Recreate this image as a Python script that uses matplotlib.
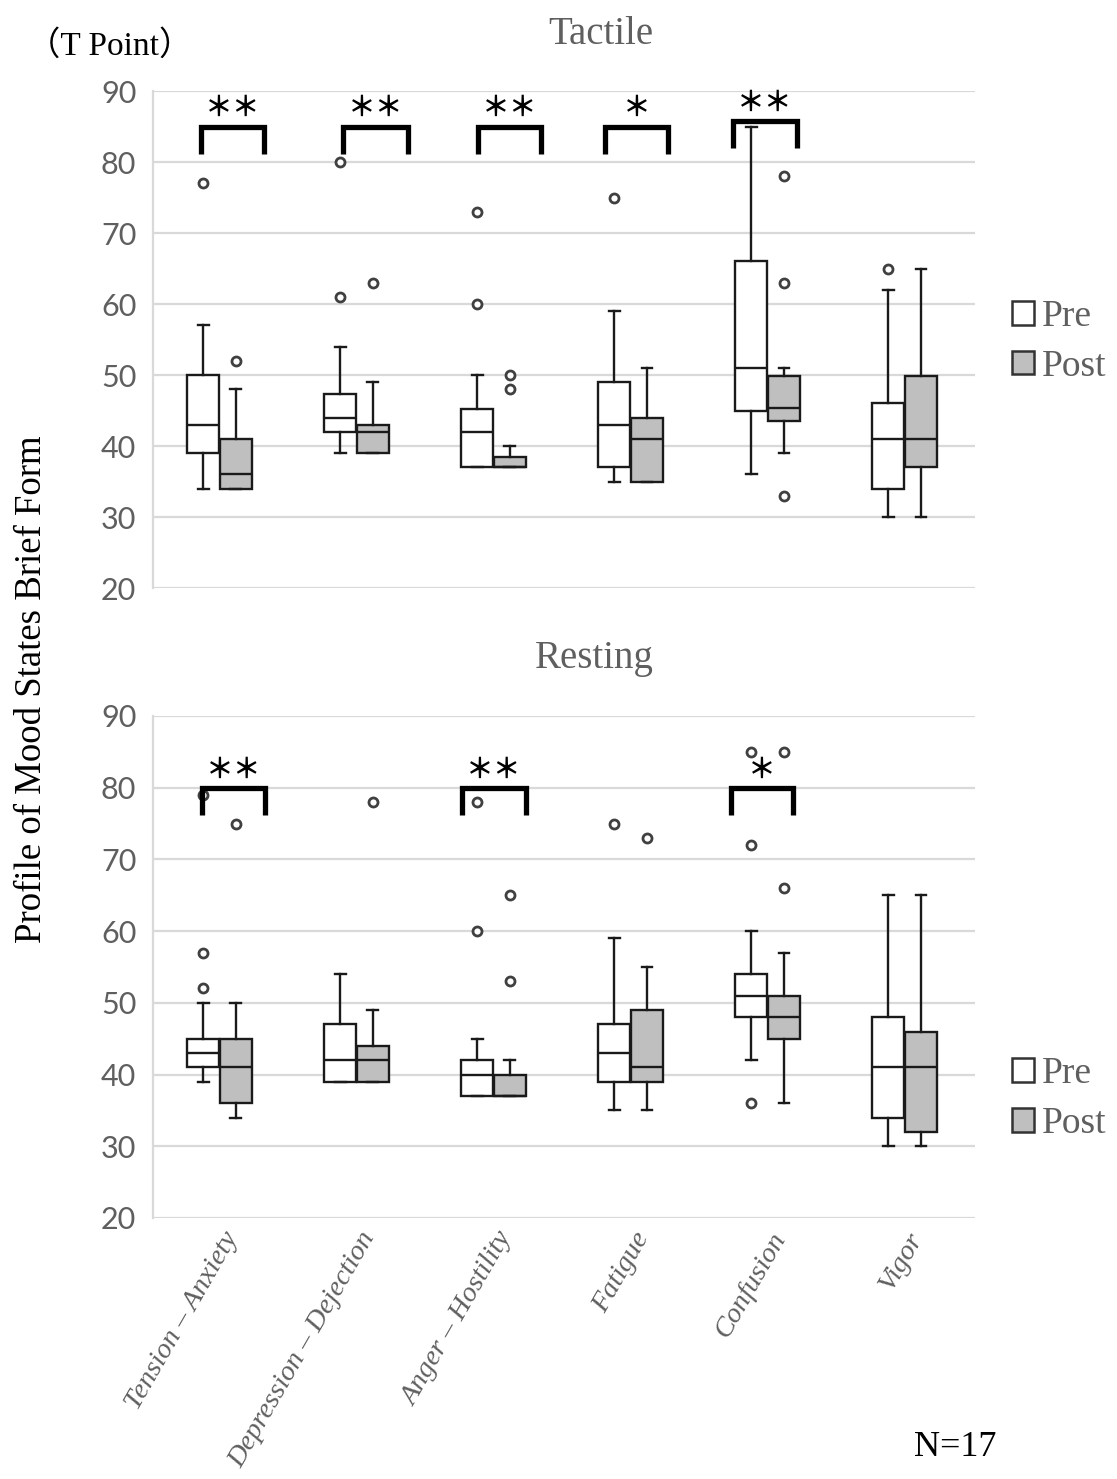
import matplotlib
matplotlib.use('Agg')
import matplotlib.pyplot as plt
from matplotlib.patches import Patch

# categories (POMS subscales)
categories = ['Tension – Anxiety', 'Depression – Dejection', 'Anger – Hostility',
              'Fatigue', 'Confusion', 'Vigor']

# Tactile, pre
tac_pre_med = [43, 44, 42, 43, 51, 41]
tac_pre_q1 = [39, 42, 37, 37, 45, 34]
tac_pre_q3 = [50, 47.3, 45.2, 49, 66, 46]
tac_pre_lo = [34, 39, 37, 35, 36, 30]
tac_pre_hi = [57, 54, 50, 59, 85, 62]
tac_pre_out = [[77], [80, 61], [73, 60], [75], [], [65]]

# Tactile, post
tac_post_med = [36, 42, 37, 41, 45.3, 41]
tac_post_q1 = [34, 39, 37, 35, 43.6, 37]
tac_post_q3 = [41, 43, 38.5, 44, 49.8, 49.8]
tac_post_lo = [34, 39, 37, 35, 39, 30]
tac_post_hi = [48, 49, 40, 51, 51, 65]
tac_post_out = [[52], [63], [50, 48], [], [78, 63, 33], []]

# Resting, pre
rest_pre_med = [43, 42, 40, 43, 51, 41]
rest_pre_q1 = [41, 39, 37, 39, 48, 34]
rest_pre_q3 = [45, 47, 42, 47, 54, 48]
rest_pre_lo = [39, 39, 37, 35, 42, 30]
rest_pre_hi = [50, 54, 45, 59, 60, 65]
rest_pre_out = [[79, 57, 52], [], [78, 60], [75], [85, 72, 36], []]

# Resting, post
rest_post_med = [41, 42, 37, 41, 48, 41]
rest_post_q1 = [36, 39, 37, 39, 45, 32]
rest_post_q3 = [45, 44, 40, 49, 51, 46]
rest_post_lo = [34, 39, 37, 35, 36, 30]
rest_post_hi = [50, 49, 42, 55, 57, 65]
rest_post_out = [[75], [78], [65, 53], [73], [85, 66], []]

# significance marks per category
tac_sig = ['＊＊', '＊＊', '＊＊', '＊', '＊＊', '']
rest_sig = ['＊＊', '', '＊＊', '', '＊', '']

# bracket placement (left / right offset from category centre, top y)
tac_br = {0: (-0.15, 0.31, 85), 1: (-0.11, 0.36, 85), 2: (-0.13, 0.33, 85),
          3: (-0.20, 0.26, 85), 4: (-0.27, 0.20, 85.8)}
rest_br = {0: (-0.14, 0.32, 79.9), 2: (-0.245, 0.22, 79.9), 4: (-0.28, 0.17, 79.9)}

SERIF = 'Liberation Serif'
GRAY_TXT = '#5f5f5f'


def stats(med, q1, q3, lo, hi, out):
    return [dict(med=med[i], q1=q1[i], q3=q3[i], whislo=lo[i], whishi=hi[i],
                 fliers=out[i]) for i in range(len(med))]


def draw_panel(ax, pre, post, sig, br, br_drop, show_x):
    n = len(categories)
    for data, off, fc in [(pre, -0.135, 'white'), (post, 0.105, '#bfbfbf')]:
        ax.bxp(data, positions=[i + off for i in range(n)], widths=0.235,
               patch_artist=True, capwidths=0.08,
               boxprops=dict(facecolor=fc, edgecolor='#1a1a1a', linewidth=1.7),
               medianprops=dict(color='#1a1a1a', linewidth=1.7),
               whiskerprops=dict(color='#1a1a1a', linewidth=1.7),
               capprops=dict(color='#1a1a1a', linewidth=1.7),
               flierprops=dict(marker='o', markersize=6.5, markerfacecolor='white',
                               markeredgecolor='#404040', markeredgewidth=2.0))
    for i, s in enumerate(sig):
        if not s:
            continue
        l, r, ytop = br[i]
        ax.plot([i + l, i + l, i + r, i + r], [ytop - br_drop, ytop, ytop, ytop - br_drop],
                color='black', lw=3.8, solid_capstyle='butt', solid_joinstyle='miter',
                clip_on=False, zorder=5)
        ax.text(i + (l + r) / 2, ytop + 2.6, s, ha='center', va='center',
                fontsize=20, weight='bold', family='Noto Sans CJK JP', color='black')

    ax.set_xlim(-0.5, n - 0.5)
    ax.set_ylim(20, 90)
    ax.set_yticks(range(20, 91, 10))
    ax.yaxis.grid(True, color='#d9d9d9', lw=1.6)
    ax.set_axisbelow(True)
    for side in ['top', 'right', 'bottom']:
        ax.spines[side].set_visible(False)
    ax.spines['left'].set_color('#d9d9d9')
    ax.spines['left'].set_linewidth(1.6)
    ax.tick_params(axis='both', length=0)
    ax.tick_params(axis='y', pad=12, labelsize=22, labelcolor=GRAY_TXT)
    for t in ax.get_yticklabels():
        t.set_family('Lato')
    ax.set_xticks(range(n))
    if show_x:
        ax.set_xticklabels(categories, rotation=60, ha='right', rotation_mode='anchor',
                           fontsize=20.5, family=SERIF, style='italic', color=GRAY_TXT)
        ax.tick_params(axis='x', pad=7)
    else:
        ax.set_xticklabels([])


fig = plt.figure(figsize=(11.17, 14.79), dpi=100)
ax1 = fig.add_axes([0.137, 0.6024, 0.736, 0.336])
ax2 = fig.add_axes([0.137, 0.1765, 0.736, 0.3394])

draw_panel(ax1,
           stats(tac_pre_med, tac_pre_q1, tac_pre_q3, tac_pre_lo, tac_pre_hi, tac_pre_out),
           stats(tac_post_med, tac_post_q1, tac_post_q3, tac_post_lo, tac_post_hi, tac_post_out),
           tac_sig, tac_br, 3.8, False)
draw_panel(ax2,
           stats(rest_pre_med, rest_pre_q1, rest_pre_q3, rest_pre_lo, rest_pre_hi, rest_pre_out),
           stats(rest_post_med, rest_post_q1, rest_post_q3, rest_post_lo, rest_post_hi, rest_post_out),
           rest_sig, rest_br, 3.7, True)

handles = [Patch(facecolor='white', edgecolor='#333333', linewidth=1.8, label='Pre'),
           Patch(facecolor='#bfbfbf', edgecolor='#333333', linewidth=1.8, label='Post')]
for yc in [0.769, 0.257]:
    fig.legend(handles=handles, loc='center left', bbox_to_anchor=(0.889, yc),
               frameon=False, handlelength=0.6, handleheight=0.6, handletextpad=0.2,
               labelspacing=0.4, borderpad=0,
               prop=dict(family=SERIF, size=27), labelcolor=GRAY_TXT)

fig.text(0.538, 0.977, 'Tactile', ha='center', va='center', fontsize=28,
         family=SERIF, color=GRAY_TXT)
fig.text(0.532, 0.555, 'Resting', ha='center', va='center', fontsize=28,
         family=SERIF, color=GRAY_TXT)
fig.text(0.098, 0.969, '（T Point）', ha='center', va='center', fontsize=24,
         family=[SERIF, 'Noto Sans CJK JP'], color='black')
fig.text(0.028, 0.534, 'Profile of Mood States Brief Form', rotation=90,
         ha='center', va='center', fontsize=26.5, family=SERIF, color='black')
fig.text(0.855, 0.0216, 'N=17', ha='center', va='center', fontsize=26,
         family=SERIF, color='black')

fig.savefig('out.png', dpi=100, facecolor='white')
